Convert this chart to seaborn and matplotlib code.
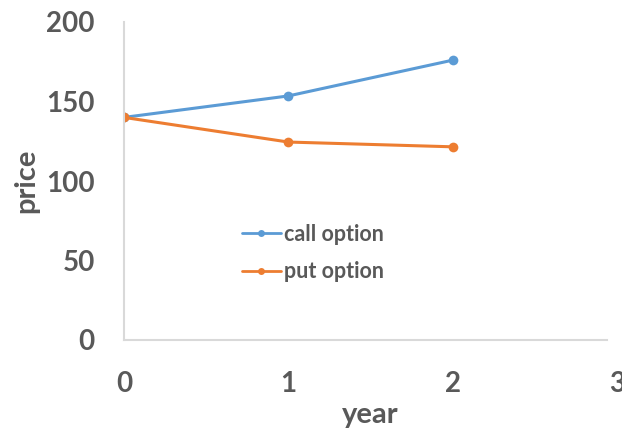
import matplotlib
matplotlib.use("Agg")
import matplotlib.pyplot as plt
import seaborn as sns
import pandas as pd

years = [0, 1, 2]
call_option = [140, 153.5, 176]
put_option = [140, 124.5, 121.5]
series_names = ["call option", "put option"]
x_ticks = [0, 1, 2, 3]
y_ticks = [0, 50, 100, 150, 200]

df = pd.DataFrame({
    "year": years * 2,
    "price": call_option + put_option,
    "series": [series_names[0]] * len(years) + [series_names[1]] * len(years),
})

sns.set_style("white")
plt.rcParams["font.family"] = ["Lato", "DejaVu Sans"]
text_color = "#595959"
axis_color = "#D9D9D9"

fig = plt.figure(figsize=(6.22, 4.29), dpi=100)
ax = fig.add_axes([124 / 622, 1 - 340 / 429, (617 - 124) / 622, (340 - 22) / 429])

sns.lineplot(
    data=df, x="year", y="price", hue="series",
    palette=["#5B9BD5", "#ED7D31"], marker="o", markersize=7,
    markeredgewidth=0, linewidth=2.2, ax=ax,
)

ax.set_xlim(0, 3)
ax.set_ylim(0, 200)
ax.set_xticks(x_ticks)
ax.set_yticks(y_ticks)
ax.tick_params(axis="both", length=0, labelsize=20, labelcolor=text_color)
ax.tick_params(axis="y", pad=21)
ax.tick_params(axis="x", pad=22)
for lab in ax.get_xticklabels() + ax.get_yticklabels():
    lab.set_fontweight("bold")

for side in ["top", "right"]:
    ax.spines[side].set_visible(False)
for side in ["left", "bottom"]:
    ax.spines[side].set_color(axis_color)
    ax.spines[side].set_linewidth(1.5)
# the horizontal axis line stops just short of the last tick
ax.spines["bottom"].set_bounds(0, 2.94)

ax.set_xlabel("year", fontsize=21, fontweight="bold", color=text_color, labelpad=4)
ax.set_ylabel("price", fontsize=21, fontweight="bold", color=text_color, labelpad=5)

leg = ax.legend(
    loc="center", bbox_to_anchor=(313 / 622, 1 - 253 / 429), bbox_transform=fig.transFigure,
    frameon=False, fontsize=15.5, handlelength=1.8, handletextpad=0.15, labelspacing=0.75,
)
for t in leg.get_texts():
    t.set_color(text_color)
    t.set_fontweight("bold")
for h in leg.legend_handles:
    h.set_markersize(5)
    h.set_linewidth(2)

fig.savefig("out.png", dpi=100)
